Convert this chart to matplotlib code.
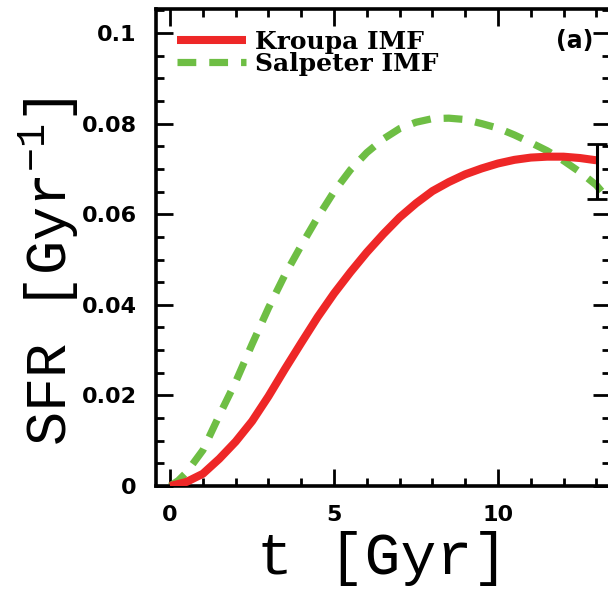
import matplotlib
matplotlib.use("Agg")
import matplotlib.pyplot as plt
from matplotlib.ticker import MultipleLocator, FixedLocator

# ---- data ----
t_kroupa = [0.0, 0.5, 1.0, 1.5, 2.0, 2.5, 3.0, 3.5, 4.0, 4.5, 5.0, 5.5, 6.0,
            6.5, 7.0, 7.5, 8.0, 8.5, 9.0, 9.5, 10.0, 10.5, 11.0, 11.5, 12.0,
            12.5, 13.0]
sfr_kroupa = [0.0, 0.0009, 0.0027, 0.0060, 0.0098, 0.0143, 0.0198, 0.0258,
              0.0316, 0.0373, 0.0425, 0.0472, 0.0516, 0.0556, 0.0593, 0.0624,
              0.0651, 0.0671, 0.0688, 0.0701, 0.0712, 0.0720, 0.0725, 0.0727,
              0.0727, 0.0724, 0.0719]

t_salpeter = [0.0, 0.25, 0.5, 1.0, 1.5, 2.0, 2.5, 3.0, 3.5, 4.0, 4.5, 5.0,
              5.5, 6.0, 6.5, 7.0, 7.5, 8.0, 8.5, 9.0, 9.5, 10.0, 10.5, 11.0,
              11.5, 12.0, 12.5, 13.0, 13.4]
sfr_salpeter = [0.0, 0.0012, 0.0030, 0.0079, 0.0156, 0.0230, 0.0313, 0.0393,
                0.0466, 0.0531, 0.0593, 0.0650, 0.0698, 0.0736, 0.0766, 0.0789,
                0.0803, 0.0811, 0.0812, 0.0809, 0.0800, 0.0790, 0.0775, 0.0758,
                0.0740, 0.0718, 0.0693, 0.0664, 0.0630]

obs_t = [13.02]
obs_sfr = [0.0694]
obs_err = [0.0060]

labels = ["Kroupa IMF", "Salpeter IMF"]
panel_tag = "(a)"
xticks = [0, 5, 10]
yticks = [0, 0.02, 0.04, 0.06, 0.08, 0.1]
ytick_labels = ["0", "0.02", "0.04", "0.06", "0.08", "0.1"]

# ---- figure ----
plt.rcParams['mathtext.fontset'] = 'custom'
plt.rcParams['mathtext.rm'] = 'Liberation Mono'
plt.rcParams['mathtext.default'] = 'regular'

fig = plt.figure(figsize=(6.08, 5.91), dpi=100)
ax = fig.add_axes([156/608, 105/591, 453.5/608, 477/591])

red = "#EE2727"
green = "#6EBE44"

ax.plot(t_kroupa, sfr_kroupa, color=red, lw=5.8, solid_capstyle='butt',
        label=labels[0], zorder=3)
ax.plot(t_salpeter, sfr_salpeter, color=green, lw=5.2, dashes=(2.6, 1.8),
        label=labels[1], zorder=2)
ax.errorbar(obs_t, obs_sfr, yerr=obs_err, fmt='none', ecolor='black',
            elinewidth=2.2, capsize=7, capthick=2.0, zorder=4)

ax.set_xlim(-0.43, 13.4)
ax.set_ylim(0, 0.1053)

ax.xaxis.set_major_locator(FixedLocator(xticks))
ax.xaxis.set_minor_locator(MultipleLocator(1))
ax.yaxis.set_major_locator(FixedLocator(yticks))
ax.yaxis.set_minor_locator(MultipleLocator(0.005))
ax.set_yticklabels(ytick_labels)

ax.tick_params(which='both', direction='in', top=True, right=True,
               width=2.0, color='black')
ax.tick_params(which='major', length=12, pad=14)
ax.tick_params(which='minor', length=6)
for lab in ax.get_xticklabels() + ax.get_yticklabels():
    lab.set_fontfamily('DejaVu Sans')
    lab.set_fontweight('bold')
    lab.set_fontsize(16)
for sp in ax.spines.values():
    sp.set_linewidth(2.6)

ax.set_xlabel("t [Gyr]", fontfamily='Liberation Mono', fontsize=43,
              labelpad=4)
ax.set_ylabel("SFR [Gyr$^{-1}$]", fontfamily='Liberation Mono', fontsize=41)
ax.yaxis.set_label_coords(-0.166, 0.45)

leg = ax.legend(loc='upper left', bbox_to_anchor=(21/453.5, 1 - 21/477),
                frameon=False, handlelength=2.75, handletextpad=0.36,
                labelspacing=-0.08, borderaxespad=0, borderpad=0,
                prop={'family': 'DejaVu Serif', 'weight': 'bold', 'size': 18})

ax.text(0.965, 0.958, panel_tag, transform=ax.transAxes, ha='right', va='top',
        fontfamily='DejaVu Sans', fontweight='bold', fontsize=17)

fig.savefig("out.png", dpi=100)
